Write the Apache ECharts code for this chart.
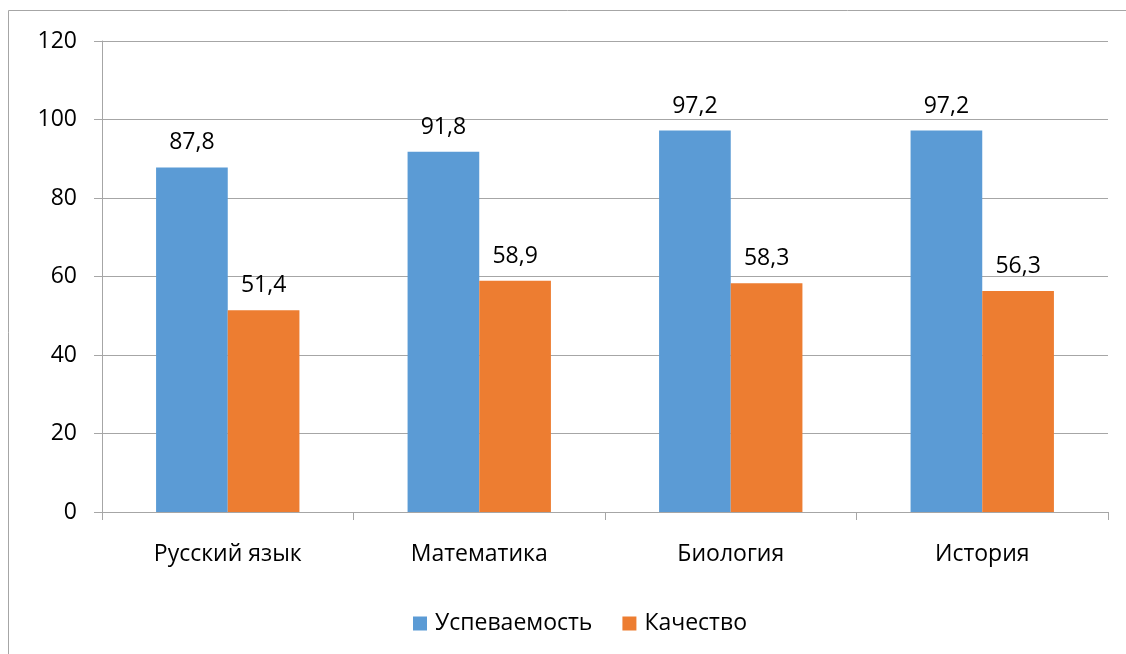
<!DOCTYPE html>
<html>
<head>
<meta charset="utf-8">
<script src="https://cdn.jsdelivr.net/npm/echarts@6/dist/echarts.min.js"></script>
<style>html,body{margin:0;padding:0;background:#fff;}#c{width:1126px;height:654px;}</style>
</head>
<body>
<div id="c"></div>
<script>
const categories = ['Русский язык', 'Математика', 'Биология', 'История'];
const uspevaemost = [87.8, 91.8, 97.2, 97.2];
const kachestvo = [51.4, 58.9, 58.3, 56.3];
const seriesNames = ['Успеваемость', 'Качество'];

const FONT = 'Open Sans';
const FS = 23;
const fmt = v => String(v).replace('.', ',');
const chart = echarts.init(document.getElementById('c'), null, {renderer: 'canvas'});
chart.setOption({
  animation: false,
  textStyle: {fontFamily: FONT},
  graphic: [{
    type: 'rect', silent: true, z: -1,
    shape: {x: 8.5, y: 10.5, width: 1300, height: 800},
    style: {fill: 'none', stroke: '#A6A6A6', lineWidth: 1}
  }],
  grid: {left: 102, right: 18, top: 41, bottom: 142, containLabel: false},
  legend: {
    data: seriesNames,
    top: 607,
    left: 408,
    itemWidth: 14, itemHeight: 14, itemGap: 30,
    icon: 'rect',
    textStyle: {fontFamily: FONT, fontSize: FS, color: '#000', padding: [0, 0, 0, 3]}
  },
  xAxis: {
    type: 'category',
    data: categories,
    axisLine: {lineStyle: {color: '#A6A6A6', width: 1}},
    axisTick: {show: true, length: 8, lineStyle: {color: '#A6A6A6'}},
    axisLabel: {margin: 31, fontFamily: FONT, fontSize: FS, color: '#000'}
  },
  yAxis: {
    type: 'value',
    min: 0, max: 120, interval: 20,
    axisLine: {show: true, lineStyle: {color: '#A6A6A6', width: 1}},
    axisTick: {show: true, length: 8, lineStyle: {color: '#A6A6A6'}},
    splitLine: {lineStyle: {color: '#A6A6A6', width: 1}},
    axisLabel: {margin: 25, fontFamily: FONT, fontSize: FS, color: '#000'}
  },
  series: [
    {
      name: seriesNames[0], type: 'bar', data: uspevaemost,
      barGap: '0%', barCategoryGap: '43%',
      itemStyle: {color: '#5B9BD5'},
      label: {show: true, position: 'top', distance: 13, formatter: p => fmt(p.value), fontFamily: FONT, fontSize: FS, color: '#000'}
    },
    {
      name: seriesNames[1], type: 'bar', data: kachestvo,
      barGap: '0%', barCategoryGap: '43%',
      itemStyle: {color: '#ED7D31'},
      label: {show: true, position: 'top', distance: 13, formatter: p => fmt(p.value), fontFamily: FONT, fontSize: FS, color: '#000'}
    }
  ]
});
</script>
</body>
</html>
